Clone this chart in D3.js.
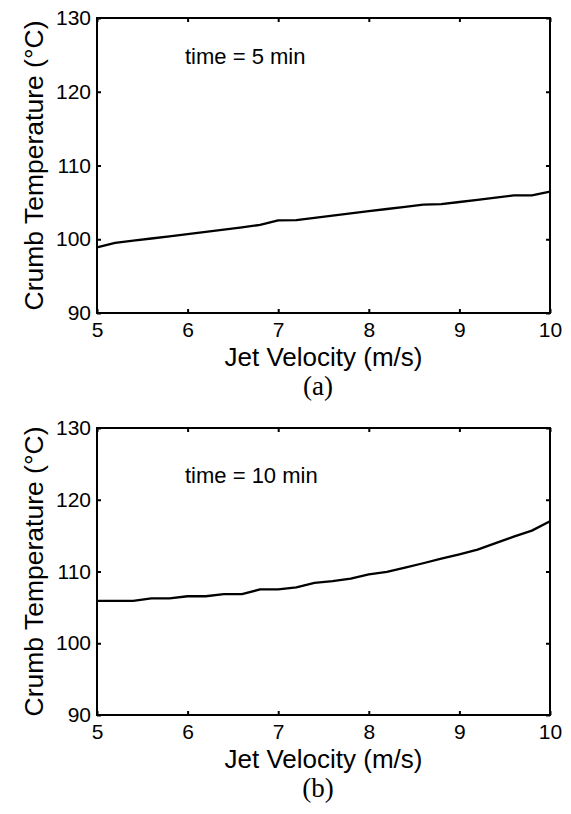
<!DOCTYPE html>
<html>
<head>
<meta charset="utf-8">
<script src="https://cdn.jsdelivr.net/npm/d3@7"></script>
<style>
  html, body { margin: 0; padding: 0; background: #fff; }
  svg { display: block; }
</style>
</head>
<body>
<script>
// ---- data ----
const velocity = [5.0, 5.2, 5.4, 5.6, 5.8, 6.0, 6.2, 6.4, 6.6, 6.8, 7.0, 7.2, 7.4,
                  7.6, 7.8, 8.0, 8.2, 8.4, 8.6, 8.8, 9.0, 9.2, 9.4, 9.6, 9.8, 10.0];
const temp5min = [98.9, 99.5, 99.8, 100.1, 100.4, 100.7, 101.0, 101.3, 101.6, 101.95,
                  102.55, 102.6, 102.9, 103.2, 103.5, 103.8, 104.1, 104.4, 104.7, 104.75,
                  105.05, 105.35, 105.65, 105.95, 105.95, 106.45];
const temp10min = [105.9, 105.9, 105.9, 106.25, 106.25, 106.55, 106.55, 106.85, 106.85, 107.5,
                   107.5, 107.8, 108.4, 108.65, 109.0, 109.6, 109.95, 110.55, 111.15, 111.8,
                   112.4, 113.05, 113.95, 114.85, 115.7, 117.0];
const xTicks = [5, 6, 7, 8, 9, 10];
const yTicks = [90, 100, 110, 120, 130];
const xLabel = "Jet Velocity (m/s)";
const yLabel = "Crumb Temperature (\u00B0C)";
const notes = ["time = 5 min", "time = 10 min"];
const tags = ["(a)", "(b)"];

// ---- layout ----
const W = 571, H = 814;
const left = 97, right = 550;
const panels = [
  { top: 18, bottom: 313, values: temp5min, note: notes[0], noteY: 64, tag: tags[0] },
  { top: 428, bottom: 715, values: temp10min, note: notes[1], noteY: 483, tag: tags[1] }
];

const svg = d3.select("body").append("svg")
  .attr("width", W).attr("height", H)
  .style("background", "#fff");

const sans = "'Liberation Sans', Arial, Helvetica, sans-serif";
const serif = "'Liberation Serif', 'Times New Roman', serif";
const fmt = d3.format("d");

const x = d3.scaleLinear().domain([5, 10]).range([left, right]);

panels.forEach(p => {
  const y = d3.scaleLinear().domain([90, 130]).range([p.bottom, p.top]);
  const g = svg.append("g");

  const styleAxis = sel => {
    sel.select(".domain").remove();
    sel.selectAll(".tick line").attr("stroke", "#000").attr("stroke-width", 2);
    sel.selectAll(".tick text").attr("fill", "#000")
      .style("font-family", sans).style("font-size", "21px");
  };

  g.append("g").attr("transform", `translate(0,${p.bottom})`)
    .call(d3.axisBottom(x).tickValues(xTicks).tickFormat(fmt)
      .tickSizeInner(-4).tickSizeOuter(0).tickPadding(9))
    .call(styleAxis);
  g.append("g").attr("transform", `translate(0,${p.top})`)
    .call(d3.axisTop(x).tickValues(xTicks).tickSizeInner(-4).tickSizeOuter(0).tickFormat(""))
    .call(styleAxis);
  g.append("g").attr("transform", `translate(${left},0)`)
    .call(d3.axisLeft(y).tickValues(yTicks).tickFormat(fmt)
      .tickSizeInner(-4).tickSizeOuter(0).tickPadding(6))
    .call(styleAxis);
  g.append("g").attr("transform", `translate(${right},0)`)
    .call(d3.axisRight(y).tickValues(yTicks).tickSizeInner(-4).tickSizeOuter(0).tickFormat(""))
    .call(styleAxis);

  // frame
  g.append("rect")
    .attr("x", left).attr("y", p.top)
    .attr("width", right - left).attr("height", p.bottom - p.top)
    .attr("fill", "none").attr("stroke", "#000").attr("stroke-width", 2);

  // data line
  const line = d3.line().x((d, i) => x(velocity[i])).y(d => y(d));
  g.append("path").datum(p.values)
    .attr("d", line)
    .attr("fill", "none").attr("stroke", "#000").attr("stroke-width", 2.3)
    .attr("stroke-linejoin", "round");

  // annotation
  g.append("text")
    .attr("x", 185).attr("y", p.noteY)
    .style("font-family", sans).style("font-size", "22px")
    .attr("fill", "#000").text(p.note);

  // x label
  g.append("text")
    .attr("x", (left + right) / 2).attr("y", p.bottom + 53)
    .attr("text-anchor", "middle")
    .style("font-family", sans).style("font-size", "26px")
    .attr("fill", "#000").text(xLabel);

  // y label
  g.append("text")
    .attr("transform", `translate(43,${(p.top + p.bottom) / 2}) rotate(-90)`)
    .attr("text-anchor", "middle")
    .style("font-family", sans).style("font-size", "26.5px")
    .attr("fill", "#000").text(yLabel);

  // panel tag
  g.append("text")
    .attr("x", 318).attr("y", p.bottom + 82)
    .attr("text-anchor", "middle")
    .style("font-family", serif).style("font-size", "27px")
    .attr("fill", "#000").text(p.tag);
});
</script>
</body>
</html>
